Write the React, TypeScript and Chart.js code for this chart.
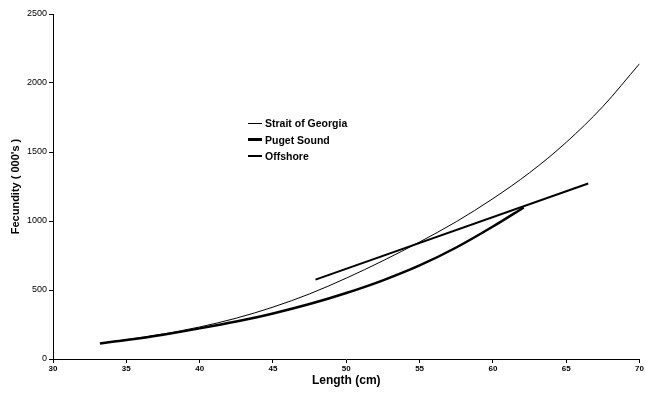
import React, { useEffect, useRef } from "react";
import { Chart, registerables } from "chart.js";

Chart.register(...registerables);

const georgiaLength = [33.2, 35, 37.5, 40, 42.5, 45, 47.5, 50, 52.5, 55, 57.5, 60, 62.5, 65, 67.5, 70];
const georgiaFecundity = [113, 140, 181, 232, 296, 376, 472, 586, 712, 848, 995, 1162, 1350, 1570, 1830, 2140];

const pugetLength = [33.2, 35, 37.5, 40, 42.5, 45, 47.5, 50, 52.5, 55, 57.5, 60, 62.1];
const pugetFecundity = [113, 137, 176, 222, 272, 330, 398, 478, 570, 678, 808, 960, 1098];

const offshoreLength = [47.9, 66.5];
const offshoreFecundity = [575, 1272];

const legendLabels = ["Strait of Georgia", "Puget Sound", "Offshore"];
const legendWidths = [1, 2.2, 1.6];

const FONT = "'Liberation Sans', Arial, sans-serif";

function pts(xs: number[], ys: number[]) {
  return xs.map((x, i) => ({ x, y: ys[i] }));
}

export default function App() {
  const ref = useRef<HTMLCanvasElement | null>(null);

  useEffect(() => {
    document.body.style.margin = "0";
    const ctx = ref.current!.getContext("2d")!;
    const chart = new Chart(ctx, {
      type: "scatter",
      data: {
        datasets: [
          {
            label: legendLabels[0],
            data: pts(georgiaLength, georgiaFecundity),
            showLine: true,
            borderColor: "#000",
            borderWidth: 1,
            pointRadius: 0,
            cubicInterpolationMode: "monotone",
          },
          {
            label: legendLabels[1],
            data: pts(pugetLength, pugetFecundity),
            showLine: true,
            borderColor: "#000",
            borderWidth: 2.5,
            pointRadius: 0,
            cubicInterpolationMode: "monotone",
          },
          {
            label: legendLabels[2],
            data: pts(offshoreLength, offshoreFecundity),
            showLine: true,
            borderColor: "#000",
            borderWidth: 2,
            pointRadius: 0,
          },
        ],
      },
      options: {
        animation: false,
        responsive: false,
        maintainAspectRatio: false,
        layout: { padding: { top: 14, right: 2, left: 0, bottom: 0 } },
        plugins: {
          legend: { display: false },
          tooltip: { enabled: false },
        },
        scales: {
          x: {
            type: "linear",
            min: 30,
            max: 70,
            ticks: {
              stepSize: 5,
              color: "#000",
              font: { family: FONT, size: 8, weight: "bold" },
              padding: 1,
              maxRotation: 0,
              callback: (v: any) => String(v),
            },
            grid: { drawOnChartArea: false, drawTicks: true, tickLength: 4, color: "#000" },
            border: { display: true, color: "#000", width: 1 },
            title: {
              display: true,
              text: "Length (cm)",
              color: "#000",
              font: { family: FONT, size: 12, weight: "bold" },
              padding: { top: 0, bottom: 10 },
            },
            afterFit: (s: any) => {
              s.height = 39;
            },
          },
          y: {
            type: "linear",
            min: 0,
            max: 2500,
            ticks: {
              stepSize: 500,
              color: "#000",
              font: { family: FONT, size: 9 },
              padding: 2,
              callback: (v: any) => String(v),
            },
            grid: { drawOnChartArea: false, drawTicks: true, tickLength: 4, color: "#000" },
            border: { display: true, color: "#000", width: 1 },
            title: {
              display: true,
              text: "Fecundity ( 000's )",
              color: "#000",
              font: { family: FONT, size: 11, weight: "bold" },
              padding: { top: 9, bottom: 0 },
            },
            afterFit: (s: any) => {
              s.width = 53;
            },
          },
        },
      },
    });
    return () => chart.destroy();
  }, []);

  return (
    <div style={{ position: "relative", width: 645, height: 398, background: "#fff" }}>
      <canvas ref={ref} width={645} height={398} style={{ display: "block" }} />
      {legendLabels.map((label, i) => (
        <div
          key={label}
          style={{
            position: "absolute",
            left: 248,
            top: 116 + i * 16.5,
            height: 14,
            display: "flex",
            alignItems: "center",
            fontFamily: FONT,
            fontWeight: "bold",
            fontSize: 10.5,
            color: "#000",
            whiteSpace: "nowrap",
          }}
        >
          <span
            style={{
              display: "inline-block",
              width: 14,
              height: legendWidths[i],
              background: "#000",
              marginRight: 3,
            }}
          />
          {label}
        </div>
      ))}
    </div>
  );
}
